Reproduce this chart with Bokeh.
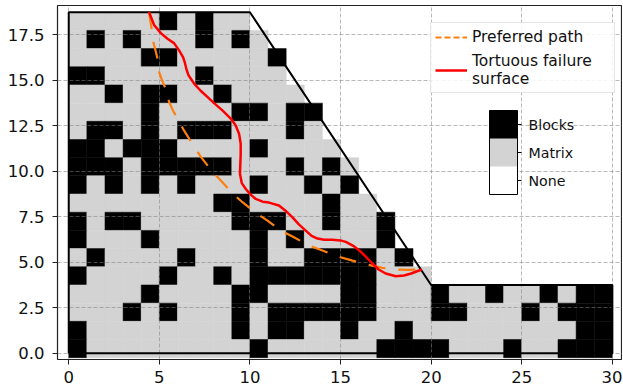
from bokeh.plotting import figure
from bokeh.models import (Range1d, FixedTicker, LinearColorMapper, ColorBar, Legend,
                          LegendItem, PrintfTickFormatter, ColumnDataSource)
from bokeh.embed import file_html
from bokeh.resources import INLINE

# ---- data -------------------------------------------------------------
# cell grid, top row (row 18) first; '#' = Blocks, 'o' = Matrix, '.' = None
grid_rows_top_down = [
    "ooooo#o#oo",
    "o#o#ooo#o#o",
    "oooo##ooooo#",
    "##ooooo#oooo",
    "oo#o##oo#oooo",
    "oooo#oooo##o##",
    "o##o#o###ooo#o",
    "##o###oooo#oooo",
    "###o#####ooo#o#o",
    "#o#o#o#ooo#oo#o#",
    "oooooooo##oooo#oo",
    "#o##ooooo###oo#oo#",
    "#ooo#ooooo#o#oooo#",
    "o#oooo#ooo#oo####o#",
    "#oooo#oo#o#######ooo",
    "oooo#oooo##oooo##ooo#oo#oo#o##",
    "ooo#o#ooo#o######ooo##ooo#o###",
    "#oooooooo#o##oo#oo#ooooooooo##",
    "#ooooooooo#oooooo####ooo#oo###",
]
n_cols = 30
row_origin = -0.25   # bottom of row 0

slope_x = [0, 0, 10, 20, 30, 30, 0]
slope_y = [0, 18.75, 18.75, 3.75, 3.75, 0, 0]

path_x = [4.43, 4.5, 4.56, 4.67, 4.8, 4.9, 4.99, 5.15, 5.35, 5.54, 5.75, 6.0, 6.36, 6.83,
          7.28, 7.88, 8.39, 9.03, 9.59, 10.32, 10.97, 11.7, 12.43, 13.26, 14.0, 14.83,
          15.66, 16.48, 17.31, 18.14, 18.78, 19.48]
path_y = [18.75, 18.3, 17.93, 17.11, 16.6, 16.19, 15.46, 15.0, 14.54, 13.81, 13.35, 12.9,
          12.25, 11.5, 10.81, 10.04, 9.49, 8.79, 8.3, 7.72, 7.29, 6.74, 6.37, 5.92, 5.64,
          5.32, 5.09, 4.87, 4.69, 4.6, 4.58, 4.6]

fail_x = [4.43, 4.71, 5.08, 5.45, 5.81, 6.09, 6.3, 6.4, 6.5, 6.6, 6.92, 7.28, 7.65, 8.02,
          8.48, 8.94, 9.2, 9.4, 9.49, 9.49, 9.47, 9.45, 9.55, 9.77, 10.04, 10.32, 10.7,
          11.05, 11.6, 12.0, 12.35, 12.7, 13.08, 13.4, 13.73, 14.1, 14.55, 15.0, 15.29,
          15.7, 16.02, 16.4, 16.76, 17.1, 17.49, 18.05, 18.5, 18.9, 19.48]
fail_y = [18.76, 18.05, 17.6, 17.29, 17.05, 16.65, 16.3, 16.01, 15.6, 15.3, 14.82, 14.43,
          14.09, 13.75, 13.35, 12.9, 12.55, 12.07, 11.52, 10.96, 10.4, 9.86, 9.35, 9.03,
          8.72, 8.48, 8.33, 8.28, 8.12, 7.8, 7.47, 7.08, 6.74, 6.45, 6.3, 6.24, 6.23, 6.2,
          6.12, 5.9, 5.66, 5.3, 4.93, 4.6, 4.38, 4.23, 4.27, 4.38, 4.6]

x_ticks = [0, 5, 10, 15, 20, 25, 30]
y_ticks = [0, 2.5, 5, 7.5, 10, 12.5, 15, 17.5]
class_labels = ["None", "Matrix", "Blocks"]
class_colors = ["white", "lightgray", "black"]

# ---- build cells -------------------------------------------------------
color_of = {"#": "black", "o": "lightgray"}
n_rows = len(grid_rows_top_down)
L, R, B, T, C = [], [], [], [], []
for k, row in enumerate(grid_rows_top_down):
    j = n_rows - 1 - k
    for i, ch in enumerate(row.ljust(n_cols, ".")):
        if ch in color_of:
            L.append(i); R.append(i + 1)
            B.append(j + row_origin); T.append(j + 1 + row_origin)
            C.append(color_of[ch])
cells = ColumnDataSource(dict(left=L, right=R, bottom=B, top=T, color=C))

p = figure(width=622, height=390, x_range=Range1d(-0.62, 30.56), y_range=Range1d(-0.35, 19.12),
           output_backend="svg", toolbar_location=None,
           min_border_left=57, min_border_right=0, min_border_top=5, min_border_bottom=31)

p.quad(left="left", right="right", bottom="bottom", top="top", fill_color="color",
       line_color="color", line_width=0.5, source=cells, level="image")

p.line(slope_x, slope_y, line_color="black", line_width=2)
orange = "#ff7f0e"
p.line(path_x, path_y, line_color=orange, line_width=2.2, line_dash="17 13")
r_fail = p.line(fail_x, fail_y, line_color="red", line_width=2.5)
# legend-only handle (short dashes as in the reference legend); no visible data
nan = float("nan")
r_path_key = p.line(x=[nan, nan], y=[nan, nan], line_color=orange, line_width=2.2, line_dash="6 3")

# axes / grid
font = "DejaVu Sans"
p.xaxis.ticker = FixedTicker(ticks=x_ticks)
p.yaxis.ticker = FixedTicker(ticks=y_ticks)
p.yaxis.formatter = PrintfTickFormatter(format="%.1f")
for ax in (p.xaxis, p.yaxis):
    ax.major_label_text_font = font
    ax.major_label_text_font_size = "16.5px"
    ax.major_label_text_color = "#111111"
    ax.axis_line_color = None
    ax.major_tick_in = 0
    ax.major_tick_out = 5
    ax.major_tick_line_color = "#222222"
    ax.minor_tick_line_color = None
p.xaxis.major_label_standoff = 6
p.yaxis.major_label_standoff = 8
p.xgrid.ticker = FixedTicker(ticks=x_ticks)
p.ygrid.ticker = FixedTicker(ticks=y_ticks)
p.grid.grid_line_color = "gray"
p.grid.grid_line_alpha = 0.55
p.grid.grid_line_dash = "4 2"
p.grid.grid_line_width = 1
p.grid.level = "underlay"
p.outline_line_color = "#222222"
p.outline_line_width = 1.2
p.background_fill_color = "white"

legend = Legend(items=[LegendItem(label="Preferred path", renderers=[r_path_key]),
                       LegendItem(label="Tortuous failure\nsurface", renderers=[r_fail])],
                location=(373, 266))
legend.label_text_font = font
legend.label_text_font_size = "15.5px"
legend.label_text_color = "#111111"
legend.glyph_width = 32
legend.label_standoff = 5
legend.label_width = 138
legend.padding = 4
legend.spacing = 5
legend.margin = 0
legend.border_line_color = "#cccccc"
legend.background_fill_alpha = 0.85
p.add_layout(legend)

mapper = LinearColorMapper(palette=class_colors, low=0, high=3)
cb = ColorBar(color_mapper=mapper, ticker=FixedTicker(ticks=[0.5, 1.5, 2.5]),
              major_label_overrides={0.5: class_labels[0], 1.5: class_labels[1], 2.5: class_labels[2]},
              width=28, height=84, location=(432, 165), padding=0, orientation="vertical",
              bar_line_color="black", major_tick_in=0, major_tick_out=4,
              major_tick_line_color="black", background_fill_alpha=0,
              major_label_text_font=font, major_label_text_font_size="14.2px",
              major_label_text_color="#111111", label_standoff=7)
p.add_layout(cb)

open("out.html", "w").write(file_html(p, INLINE))
